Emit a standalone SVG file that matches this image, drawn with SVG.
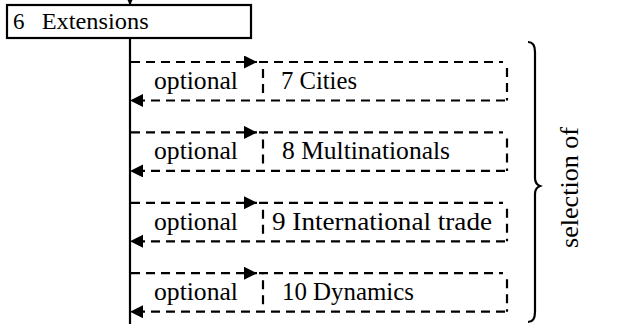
<svg xmlns="http://www.w3.org/2000/svg" width="620" height="324" viewBox="0 0 620 324">
<style>
.t{font-family:"Liberation Serif","Times New Roman",serif;font-size:26px;fill:#000}
.h{font-size:23px}
.s{stroke:#000;stroke-width:2.2;fill:none}
.d{stroke:#000;stroke-width:2.2;fill:none;stroke-dasharray:9 6}
</style>
<defs>
<marker id="ah" markerUnits="userSpaceOnUse" markerWidth="14" markerHeight="14" refX="13" refY="6.5" orient="auto">
<path d="M0,0 L13,6.5 L0,13 z" fill="#000" stroke="none"/>
</marker>
</defs>
<rect width="620" height="324" fill="#fff"/>
<g id="connectors">
<line class="s" x1="130" y1="-12" x2="130" y2="5" marker-end="url(#ah)"/>
<line class="s" x1="130" y1="38" x2="130" y2="324"/>
<line class="d" x1="131" y1="62" x2="257" y2="62" marker-end="url(#ah)"/>
<line class="d" x1="505" y1="100.5" x2="130" y2="100.5" marker-end="url(#ah)"/>
<line class="d" x1="131" y1="132.4" x2="257" y2="132.4" marker-end="url(#ah)"/>
<line class="d" x1="505" y1="170.9" x2="130" y2="170.9" marker-end="url(#ah)"/>
<line class="d" x1="131" y1="202.8" x2="257" y2="202.8" marker-end="url(#ah)"/>
<line class="d" x1="505" y1="241.3" x2="130" y2="241.3" marker-end="url(#ah)"/>
<line class="d" x1="131" y1="273.2" x2="257" y2="273.2" marker-end="url(#ah)"/>
<line class="d" x1="505" y1="311.7" x2="130" y2="311.7" marker-end="url(#ah)"/>
</g>
<g id="n6">
<rect class="s" x="7" y="5" width="244" height="33"/>
<text class="t h" x="13" y="29.3">6</text>
<text class="t h" x="41.7" y="29.3" textLength="107" lengthAdjust="spacingAndGlyphs">Extensions</text>
</g>
<g id="opt1"><text class="t" x="154" y="89" textLength="84" lengthAdjust="spacingAndGlyphs">optional</text></g>
<g id="opt2"><text class="t" x="154" y="159.4" textLength="84" lengthAdjust="spacingAndGlyphs">optional</text></g>
<g id="opt3"><text class="t" x="154" y="229.8" textLength="84" lengthAdjust="spacingAndGlyphs">optional</text></g>
<g id="opt4"><text class="t" x="154" y="300.2" textLength="84" lengthAdjust="spacingAndGlyphs">optional</text></g>
<g id="n7">
<path class="d" d="M263,93 V62"/><path class="d" d="M259,62 H503"/><path class="d" d="M507,68 V100.5"/>
<text class="t" x="281" y="89" textLength="76" lengthAdjust="spacingAndGlyphs">7 Cities</text>
</g>
<g id="n8">
<path class="d" d="M263,163.4 V132.4"/><path class="d" d="M259,132.4 H503"/><path class="d" d="M507,138.4 V170.9"/>
<text class="t" x="282" y="159.4" textLength="168" lengthAdjust="spacingAndGlyphs">8 Multinationals</text>
</g>
<g id="n9">
<path class="d" d="M263,233.8 V202.8"/><path class="d" d="M259,202.8 H503"/><path class="d" d="M507,208.8 V241.3"/>
<text class="t" x="272" y="229.8" textLength="220" lengthAdjust="spacingAndGlyphs">9 International trade</text>
</g>
<g id="n10">
<path class="d" d="M263,304.2 V273.2"/><path class="d" d="M259,273.2 H503"/><path class="d" d="M507,279.2 V311.7"/>
<text class="t" x="282" y="300.2" textLength="132" lengthAdjust="spacingAndGlyphs">10 Dynamics</text>
</g>
<g id="brace">
<path class="s" d="M528,42 Q535,42 535,52 V178 Q535,184 540,186 Q535,188 535,194 V312 Q535,322 528,322"/>
<text class="t" transform="translate(578,248) rotate(-90)" x="0" y="0" textLength="121" lengthAdjust="spacingAndGlyphs">selection of</text>
</g>
</svg>
